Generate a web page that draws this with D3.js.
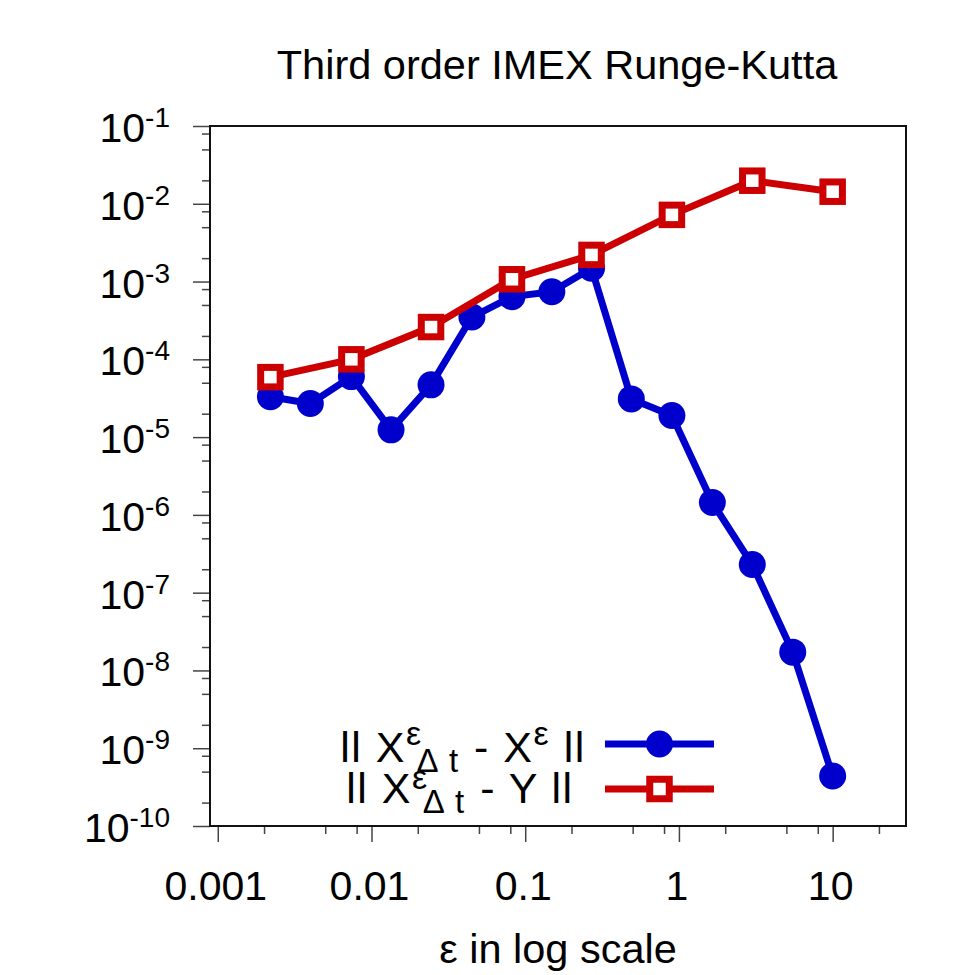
<!DOCTYPE html>
<html>
<head>
    <meta charset="UTF-8">
    <title>Third order IMEX Runge-Kutta</title>
    <style type="text/css">
        body { margin: 0; background: #fff; }
        svg { font-family: "Liberation Sans", Arial, Helvetica, sans-serif; }
        .tick-label { font-size: 41px; fill: #000; }
        .title { font-size: 41.5px; text-anchor: middle; fill: #000; }
        .legend text { white-space: pre; letter-spacing: 1.5px; }
    </style>
    <script src="https://d3js.org/d3.v7.min.js"></script>
</head>
<body>
<script type="text/javascript">
    // epsilon values (x) shared by the blue series
    const eps = [0.0022, 0.004, 0.0074, 0.0134, 0.0244, 0.045, 0.082, 0.149,
                 0.27, 0.49, 0.9, 1.65, 3.0, 5.5, 10];
    // || X^eps_dt - X^eps ||
    const errX = [3.3e-5, 2.7e-5, 6.0e-5, 1.24e-5, 4.7e-5, 3.5e-4, 6.4e-4, 7.4e-4,
                  1.48e-3, 3.1e-5, 1.9e-5, 1.44e-6, 2.3e-7, 1.72e-8, 4.4e-10];
    // || X^eps_dt - Y ||  (every other epsilon)
    const epsY = [0.0022, 0.0074, 0.0244, 0.082, 0.27, 0.9, 3.0, 10];
    const errY = [5.9e-5, 1.0e-4, 2.6e-4, 1.07e-3, 2.2e-3, 7.2e-3, 1.98e-2, 1.43e-2];

    const xMajor = [0.001, 0.01, 0.1, 1, 10];
    const xLabels = ["0.001", "0.01", "0.1", "1", "10"];
    const yExp = [-1, -2, -3, -4, -5, -6, -7, -8, -9, -10];

    const W = 975, H = 975;
    const pLeft = 210, pRight = 906, pTop = 126, pBottom = 826;
    const blue = "#0000cc", red = "#cc0000";

    const svg = d3.select("body").append("svg")
        .attr("width", W).attr("height", H);

    const x = d3.scaleLog().domain([0.00089, 30]).range([pLeft, pRight]);
    const y = d3.scaleLog().domain([1e-10, 1e-1]).range([pBottom, pTop]);

    // minor ticks at 2, 5, 8 of each decade
    const xMinor = [];
    for (let e = -4; e <= 1; e++) [2, 5, 8].forEach(m => {
        const v = m * Math.pow(10, e);
        if (v > x.domain()[0] && v < x.domain()[1]) xMinor.push(v);
    });
    const yMinor = [];
    for (let e = -10; e <= -2; e++) [2, 5, 8].forEach(m => yMinor.push(m * Math.pow(10, e)));

    // axes (ticks only, labels drawn separately)
    const tickStyle = g => {
        g.select(".domain").remove();
        g.selectAll(".tick line").attr("stroke", "#444").attr("stroke-width", 1.5);
        g.selectAll(".tick text").remove();
    };
    svg.append("g").attr("transform", `translate(0,${pBottom})`)
        .call(d3.axisBottom(x).tickValues(xMajor).tickSize(16)).call(tickStyle);
    svg.append("g").attr("transform", `translate(0,${pBottom})`)
        .call(d3.axisBottom(x).tickValues(xMinor).tickSize(8)).call(tickStyle);
    svg.append("g").attr("transform", `translate(${pLeft},0)`)
        .call(d3.axisLeft(y).tickValues(yExp.map(e => Math.pow(10, e))).tickSize(17)).call(tickStyle);
    svg.append("g").attr("transform", `translate(${pLeft},0)`)
        .call(d3.axisLeft(y).tickValues(yMinor).tickSize(8)).call(tickStyle);

    // frame
    svg.append("rect")
        .attr("x", pLeft).attr("y", pTop)
        .attr("width", pRight - pLeft).attr("height", pBottom - pTop)
        .attr("fill", "none").attr("stroke", "#111").attr("stroke-width", 2);

    // x tick labels
    svg.selectAll(".xl").data(xMajor).enter().append("text")
        .attr("class", "tick-label")
        .attr("x", d => x(d) - 2).attr("y", 900)
        .attr("text-anchor", "middle")
        .text((d, i) => xLabels[i]);

    // y tick labels 10^n
    const yl = svg.selectAll(".yl").data(yExp).enter().append("text")
        .attr("class", "tick-label")
        .attr("x", 170).attr("y", d => y(Math.pow(10, d)) + 16)
        .attr("text-anchor", "end");
    yl.append("tspan").text("10");
    yl.append("tspan").attr("font-size", 28).attr("dy", -15).text(d => "-" + Math.abs(d));

    // title and x label
    svg.append("text").attr("class", "title")
        .attr("x", 557).attr("y", 79).text("Third order IMEX Runge-Kutta");
    svg.append("text").attr("class", "title")
        .attr("x", 558).attr("y", 963).text("ε in log scale");

    // blue series
    const line = d3.line().x(d => x(d[0])).y(d => y(d[1]));
    const blueData = eps.map((e, i) => [e, errX[i]]);
    const redData = epsY.map((e, i) => [e, errY[i]]);

    svg.append("path").datum(blueData)
        .attr("fill", "none").attr("stroke", blue).attr("stroke-width", 7)
        .attr("stroke-linejoin", "round").attr("d", line);
    svg.selectAll(".bc").data(blueData).enter().append("circle")
        .attr("cx", d => x(d[0])).attr("cy", d => y(d[1]))
        .attr("r", 13.5).attr("fill", blue);

    // red series
    svg.append("path").datum(redData)
        .attr("fill", "none").attr("stroke", red).attr("stroke-width", 7)
        .attr("stroke-linejoin", "miter").attr("d", line);
    const sq = 19.5;
    svg.selectAll(".rs").data(redData).enter().append("rect")
        .attr("x", d => x(d[0]) - sq / 2).attr("y", d => y(d[1]) - sq / 2)
        .attr("width", sq).attr("height", sq)
        .attr("fill", "#fff").attr("stroke", red).attr("stroke-width", 7);

    // legend
    const lg = svg.append("g").attr("class", "legend");
    const t1 = lg.append("text").attr("x", 463).attr("y", 762)
        .attr("text-anchor", "middle").attr("font-size", 43);
    t1.append("tspan").text("ll X");
    t1.append("tspan").attr("font-size", 34).attr("dy", -17).text("ε");
    t1.append("tspan").attr("font-size", 33).attr("dy", 27).attr("dx", -6).text("Δ t");
    t1.append("tspan").attr("dy", -10).attr("dx", 1).text(" - X");
    t1.append("tspan").attr("font-size", 34).attr("dy", -17).text("ε");
    t1.append("tspan").attr("dy", 17).text(" ll");

    const t2 = lg.append("text").attr("x", 460).attr("y", 803)
        .attr("text-anchor", "middle").attr("font-size", 43);
    t2.append("tspan").text("ll X");
    t2.append("tspan").attr("font-size", 34).attr("dy", -14).text("ε");
    t2.append("tspan").attr("font-size", 33).attr("dy", 24).attr("dx", -6).text("Δ t");
    t2.append("tspan").attr("dy", -10).attr("dx", 1).text(" - Y ll");

    lg.append("line").attr("x1", 605).attr("x2", 714).attr("y1", 744).attr("y2", 744)
        .attr("stroke", blue).attr("stroke-width", 7);
    lg.append("circle").attr("cx", 659.5).attr("cy", 744).attr("r", 13.5).attr("fill", blue);
    lg.append("line").attr("x1", 605).attr("x2", 714).attr("y1", 789).attr("y2", 789)
        .attr("stroke", red).attr("stroke-width", 7);
    lg.append("rect").attr("x", 659.5 - sq / 2).attr("y", 789 - sq / 2)
        .attr("width", sq).attr("height", sq)
        .attr("fill", "#fff").attr("stroke", red).attr("stroke-width", 7);
</script>
</body>
</html>
